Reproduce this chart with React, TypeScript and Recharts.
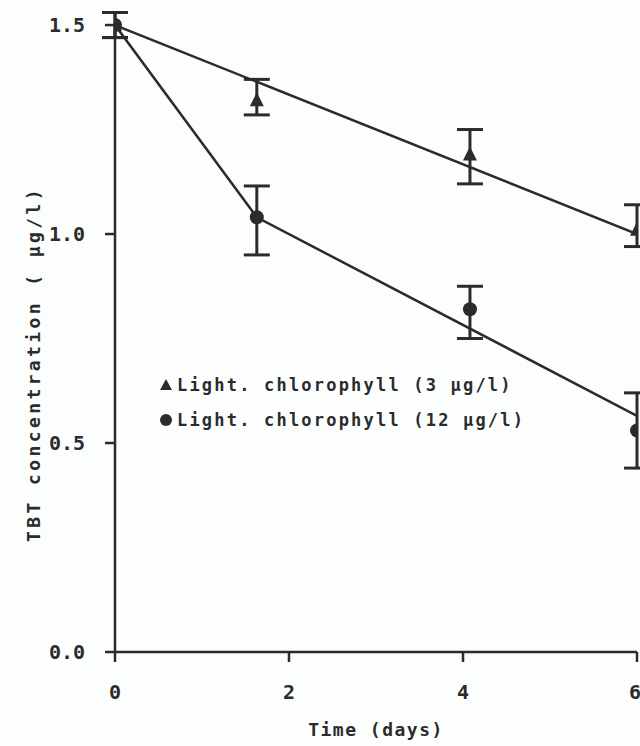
import React from "react";
import {
  ComposedChart, Scatter, ErrorBar, XAxis, YAxis, Legend, ReferenceLine,
} from "recharts";

// measurement days and TBT concentrations (µg/l)
const days = [0, 1.63, 4.08, 6];
const lowChl = [1.5, 1.32, 1.19, 1.01];
const lowChlErr = [[0.03, 0.03], [0.035, 0.05], [0.07, 0.06], [0.04, 0.06]];
const highChl = [1.5, 1.04, 0.82, 0.53];
const highChlErr = [[0.03, 0.03], [0.09, 0.075], [0.07, 0.055], [0.09, 0.09]];

// fitted lines
const lowFitDays = [0, 6];
const lowFit = [1.5, 1.0];
const highFitDays = [0, 1.63, 6];
const highFit = [1.5, 1.04, 0.565];

const xTicks = [0, 2, 4, 6];
const yTicks = [0, 0.5, 1.0, 1.5];
const yTop = 1.53; // room for the top error caps

const INK = "#2b2b2b";
const BG = "#fcfefd";
const MONO = "'DejaVu Sans Mono', 'Liberation Mono', monospace";

const lowData = days.map((d, i) => ({ x: d, y: lowChl[i], err: lowChlErr[i] }));
const highData = days.map((d, i) => ({ x: d, y: highChl[i], err: highChlErr[i] }));
const lowFitData = lowFitDays.map((d, i) => ({ x: d, y: lowFit[i] }));
const highFitData = highFitDays.map((d, i) => ({ x: d, y: highFit[i] }));

const Triangle = ({ cx, cy }: any) => (
  <path d={`M${cx},${cy - 8} L${cx + 7},${cy + 6} L${cx - 7},${cy + 6} Z`} fill={INK} />
);
const Dot = ({ cx, cy }: any) => <circle cx={cx} cy={cy} r={7} fill={INK} />;
const Nothing = () => <g />;

const legendItems = [
  { label: "Light. chlorophyll (3 µg/l)", shape: "tri" },
  { label: "Light. chlorophyll (12 µg/l)", shape: "dot" },
];

const LegendBox = () => (
  <div style={{ fontFamily: MONO, fontSize: 17, fontWeight: 600, letterSpacing: 2.2, color: INK }}>
    {legendItems.map(it => (
      <div key={it.label} style={{ display: "flex", alignItems: "center", height: 35 }}>
        <svg width={16} height={16} style={{ marginRight: 3 }}>
          {it.shape === "tri"
            ? <path d="M8,2 L14,13 L2,13 Z" fill={INK} />
            : <circle cx={8} cy={8} r={6} fill={INK} />}
        </svg>
        <span>{it.label}</span>
      </div>
    ))}
  </div>
);

const tickStyle = { fontFamily: MONO, fontSize: 20, fontWeight: 600, fill: INK };

export default function App() {
  return (
    <div style={{ position: "absolute", left: 0, top: 0, width: 640, height: 746, background: BG }}>
      <ComposedChart width={640} height={746} margin={{ top: 12.5, right: 3, bottom: 64, left: 0 }}>
        <XAxis
          type="number" dataKey="x" domain={[0, 6]} ticks={xTicks} allowDataOverflow height={30}
          axisLine={{ stroke: INK, strokeWidth: 2.5 }}
          tickLine={{ stroke: INK, strokeWidth: 2.5 }}
          tickSize={10} tickMargin={23} tick={tickStyle}
          label={{
            content: () => (
              <text x={376} y={736} textAnchor="middle" fontFamily={MONO} fontSize={18}
                fontWeight={600} letterSpacing={1.5} fill={INK}>Time (days)</text>
            ),
          }}
        />
        <YAxis
          type="number" dataKey="y" domain={[0, yTop]} ticks={yTicks} width={115}
          axisLine={false}
          tickLine={{ stroke: INK, strokeWidth: 2.5 }}
          tickSize={10} tickMargin={20} tick={tickStyle}
          tickFormatter={(v: number) => v.toFixed(1)}
          label={{
            content: () => (
              <text x={40} y={364} transform="rotate(-90 40 364)" textAnchor="middle"
                fontFamily={MONO} fontSize={18} fontWeight={600} letterSpacing={3.4} fill={INK}>
                TBT concentration ( µg/l)
              </text>
            ),
          }}
        />
        <ReferenceLine segment={[{ x: 0, y: 0 }, { x: 0, y: 1.5 }]} stroke={INK} strokeWidth={2.5} />
        <Legend
          layout="horizontal" verticalAlign="middle" align="center"
          wrapperStyle={{ left: 158, top: 367, width: 420 }}
          content={() => <LegendBox />}
        />
        <Scatter data={lowFitData} dataKey="y" shape={<Nothing />} line={{ stroke: INK, strokeWidth: 2.5 }}
          legendType="none" isAnimationActive={false} />
        <Scatter data={highFitData} dataKey="y" shape={<Nothing />} line={{ stroke: INK, strokeWidth: 2.5 }}
          legendType="none" isAnimationActive={false} />
        <Scatter data={lowData} dataKey="y" shape={<Triangle />} isAnimationActive={false}>
          <ErrorBar dataKey="err" direction="y" width={13} stroke={INK} strokeWidth={3} />
        </Scatter>
        <Scatter data={highData} dataKey="y" shape={<Dot />} isAnimationActive={false}>
          <ErrorBar dataKey="err" direction="y" width={13} stroke={INK} strokeWidth={3} />
        </Scatter>
      </ComposedChart>
    </div>
  );
}
